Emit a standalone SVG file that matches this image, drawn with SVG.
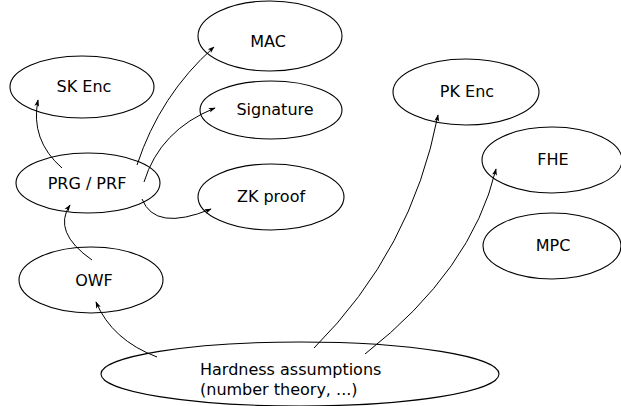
<svg xmlns="http://www.w3.org/2000/svg" width="621" height="406" viewBox="0 0 621 406">
<defs>
<style>
.n ellipse{fill:#fff;stroke:#000;stroke-width:1.1}
.n text{font-family:"DejaVu Sans",Verdana,sans-serif;font-size:16px;fill:#000;text-anchor:middle}
.e path{fill:none;stroke:#000;stroke-width:1;marker-end:url(#ah)}
</style>
<marker id="ah" viewBox="0 0 10 10" refX="9" refY="5" markerWidth="7" markerHeight="7" markerUnits="userSpaceOnUse" orient="auto">
<path d="M0,1.5 L10,5 L0,8.5 L2.5,5 z" fill="#000"/>
</marker>
</defs>
<rect width="621" height="406" fill="#fff"/>
<g id="mac" class="n"><ellipse cx="270" cy="36" rx="72" ry="35"/><text x="268" y="47">MAC</text></g>
<g id="skenc" class="n"><ellipse cx="82" cy="87" rx="72" ry="31"/><text x="84" y="92">SK Enc</text></g>
<g id="signature" class="n"><ellipse cx="271" cy="110" rx="71" ry="29"/><text x="275" y="115">Signature</text></g>
<g id="prg" class="n"><ellipse cx="88" cy="183" rx="72" ry="30"/><text x="87" y="189">PRG / PRF</text></g>
<g id="zk" class="n"><ellipse cx="271" cy="197" rx="73" ry="33"/><text x="271" y="202">ZK proof</text></g>
<g id="pkenc" class="n"><ellipse cx="466" cy="92" rx="73" ry="33"/><text x="467" y="97">PK Enc</text></g>
<g id="fhe" class="n"><ellipse cx="552" cy="160" rx="70" ry="33"/><text x="553" y="165">FHE</text></g>
<g id="mpc" class="n"><ellipse cx="552" cy="246" rx="69" ry="33"/><text x="553" y="251">MPC</text></g>
<g id="owf" class="n"><ellipse cx="91" cy="280" rx="72" ry="33"/><text x="94" y="286">OWF</text></g>
<g id="hard" class="n"><ellipse cx="300" cy="374" rx="199" ry="32"/><text x="200" y="375" style="text-anchor:start">Hardness assumptions</text><text x="200" y="395" style="text-anchor:start">(number theory, ...)</text></g>
<g id="connectors" class="e">
<path d="M62,168 Q30,140 38,100"/>
<path d="M137,165 Q160,95 214,47"/>
<path d="M144,182 Q160,130 215,108"/>
<path d="M142,199 Q155,232 211,209"/>
<path d="M92,260 Q52,232 70,205"/>
<path d="M157,357 Q112,340 96,302"/>
<path d="M314,348 Q412,250 438,115"/>
<path d="M365,354 Q472,270 496,169"/>
</g>
</svg>
